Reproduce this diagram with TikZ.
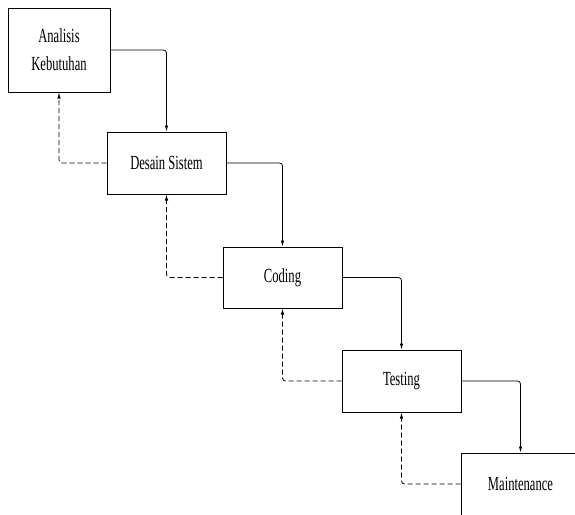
\documentclass[tikz,border=0pt]{standalone}
\usepackage{fontspec}
\setmainfont{Liberation Serif}
\usetikzlibrary{arrows.meta}
\newcommand{\nx}[1]{\scalebox{0.63}[1]{#1}}
\begin{document}
\begin{tikzpicture}[x=1pt,y=-1pt,
  phase/.style={draw=black,line width=1pt,fill=white,minimum width=119pt,minimum height=62pt,inner sep=0pt,font=\fontsize{20}{28}\selectfont,align=center},
  flow/.style={line width=0.8pt,rounded corners=3pt,-{Latex[length=6pt,width=3.5pt]}},
  back/.style={flow,dash pattern=on 5pt off 3pt}]
\clip (0,0) rectangle (575,514);
\fill[white] (0,0) rectangle (575,514);
\node[phase,minimum width=102pt,minimum height=84pt] (A) at (59,50) {\nx{Analisis}\\\nx{Kebutuhan}};
\node[phase] (D) at (166.5,163) {\nx{Desain Sistem}};
\node[phase,minimum height=61pt] (C) at (282.5,277.5) {\nx{Coding}};
\node[phase] (T) at (401.5,381) {\nx{Testing}};
\node[phase] (M) at (520.5,484) {\nx{Maintenance}};
\draw[flow] (A.east) -| (D.north);
\draw[flow] (D.east) -| (C.north);
\draw[flow] (C.east) -| (T.north);
\draw[flow] (T.east) -| (M.north);
\draw[back] (D.west) -| (A.south);
\draw[back] (C.west) -| (D.south);
\draw[back] (T.west) -| (C.south);
\draw[back] (M.west) -| (T.south);
\end{tikzpicture}
\end{document}
